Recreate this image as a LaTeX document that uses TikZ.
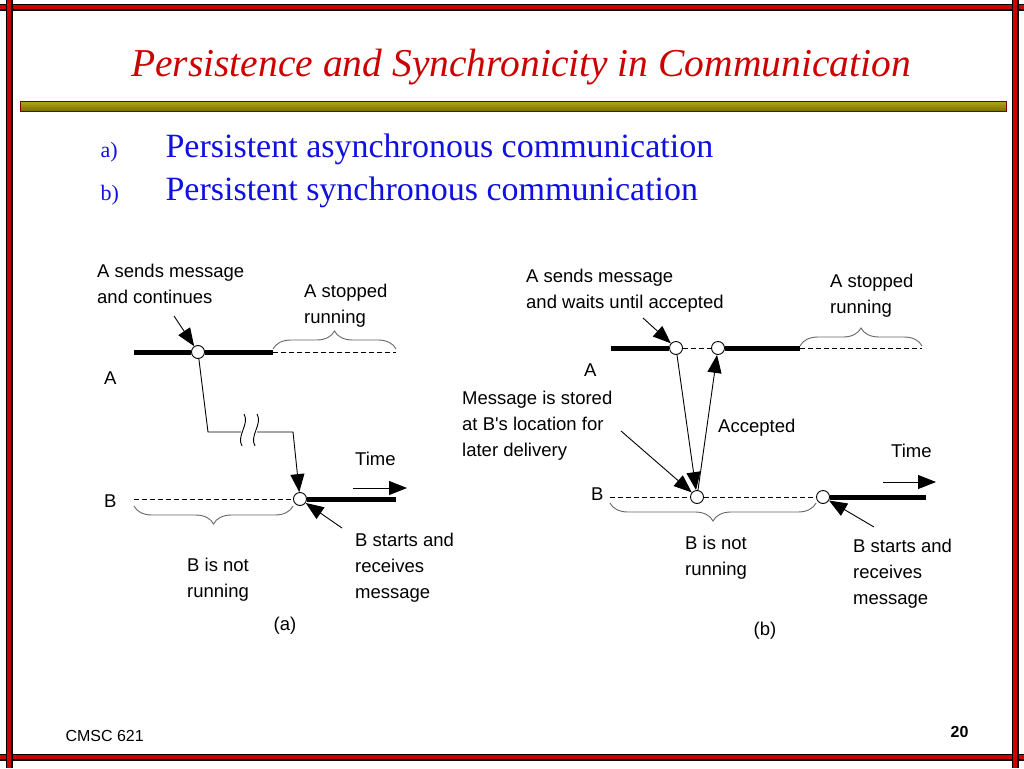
\documentclass[tikz,border=0pt]{standalone}
\usepackage{fontspec}
\setmainfont{Liberation Serif}
\newfontfamily\diag{Liberation Sans}
\usetikzlibrary{arrows.meta,decorations.pathreplacing}
\definecolor{titlered}{RGB}{204,0,0}
\definecolor{itemblue}{RGB}{16,16,224}
\definecolor{barhi}{RGB}{176,170,30}
\definecolor{barlo}{RGB}{120,112,0}
\begin{document}
\begin{tikzpicture}[x=1pt,y=-1pt,
    lbl/.style={font=\diag\fontsize{18.5}{26}\selectfont,align=left,anchor=north west,inner sep=0},
    dot/.style={circle,draw,fill=white,inner sep=0,minimum size=13pt,line width=0.9pt},
    life/.style={line width=5pt},
    idle/.style={dash pattern=on 5pt off 3pt,line width=0.8pt},
    wire/.style={line width=0.9pt},
    ptr/.style={wire,-{Triangle[length=18pt,width=14pt]}},
    brc/.style={decorate,decoration={brace,amplitude=18pt,aspect=0.5},line width=0.9pt,draw=black!60},
    band/.style={line width=7pt,draw=black},
    bandin/.style={line width=4pt,draw=titlered}]
    \useasboundingbox (0,0) rectangle (1024,768);
    % frame
    \foreach \y in {7.5,757} {\draw[band] (0,\y) -- (1024,\y); \draw[bandin] (0,\y) -- (1024,\y);}
    \foreach \x in {9,1015} {\draw[band] (\x,0) -- (\x,768); \draw[bandin] (\x,0) -- (\x,768);}
    \node[anchor=base,font=\fontsize{39.5}{48}\selectfont\itshape,text=titlered] (title) at (521,77) {Persistence and Synchronicity in Communication};
    \shade[top color=barhi,bottom color=barlo,draw=titlered!60!black] (20,101) rectangle (1006,111);
    \node[anchor=base west,font=\fontsize{22}{26}\selectfont,text=itemblue] (ia) at (97,157) {a)};
    \node[anchor=base west,font=\fontsize{34}{40}\selectfont,text=itemblue] (ta) at (162,157) {Persistent asynchronous communication};
    \node[anchor=base west,font=\fontsize{22}{26}\selectfont,text=itemblue] (ib) at (97,200) {b)};
    \node[anchor=base west,font=\fontsize{34}{40}\selectfont,text=itemblue] (tb) at (162,200) {Persistent synchronous communication};
    \node[anchor=base west,font=\diag\fontsize{16}{18}\selectfont] (foot) at (62,741) {CMSC 621};
    \node[anchor=base east,font=\diag\bfseries\fontsize{16}{18}\selectfont] (page) at (972,737) {20};

    % (a) asynchronous
    \node[dot] (as) at (198,352) {};
    \node[dot] (ar) at (300,499) {};
    \coordinate (a0) at (134,352);
    \coordinate (a1) at (273,352);
    \coordinate (a2) at (396,352);
    \coordinate (b0) at (134,499);
    \coordinate (b1) at (396,499);
    \draw[life] (a0) -- (as) -- (a1);
    \draw[idle] (a1) -- (a2);
    \draw[idle] (b0) -- (ar);
    \draw[life] (ar) -- (b1);
    \coordinate (m1) at (208,432);
    \coordinate (m2) at (241,432);
    \coordinate (m3) at (257,432);
    \coordinate (m4) at (293,432);
    \draw[wire] (as) -- (m1) -- (m2);
    \draw[ptr] (m3) -- (m4) -- (ar);
    \foreach \x in {244,257}
      \draw[wire] (\x,414) .. controls (\x+6,424) and (\x-8,436) .. (\x-2,446);
    \coordinate (pa) at (174,316);
    \coordinate (pb) at (342,528);
    \draw[ptr] (pa) -- (as);
    \draw[ptr] (pb) -- (ar);
    \coordinate (t0) at (353,488);
    \coordinate (t1) at (407,488);
    \draw[ptr] (t0) -- (t1);
    \draw[brc] ([yshift=3pt]a1) -- ([yshift=3pt]a2);
    \draw[brc] ([yshift=-7pt]ar.west) -- ([yshift=-7pt]b0);
    \node[lbl] (asend) at (97,264) {A sends message\\and continues};
    \node[lbl] (astop) at (304,284) {A stopped\\running};
    \node[lbl] (la) at (104,372) {A};
    \node[lbl] (lb) at (104,495) {B};
    \node[lbl] (time) at (355,452) {Time};
    \node[lbl] (bnot) at (187,558) {B is not\\running};
    \node[lbl] (bgo) at (355,533) {B starts and\\receives\\message};
    \node[lbl,anchor=center] (capa) at (285,626) {(a)};

    % (b) synchronous
    \node[dot] (s1) at (676,348) {};
    \node[dot] (s2) at (718,348) {};
    \node[dot] (r1) at (697,497) {};
    \node[dot] (r2) at (823,497) {};
    \coordinate (c0) at (611,348);
    \coordinate (c1) at (800,348);
    \coordinate (c2) at (922,348);
    \coordinate (d0) at (610,497);
    \coordinate (d1) at (926,497);
    \draw[life] (c0) -- (s1);
    \draw[idle] (s1) -- (s2);
    \draw[life] (s2) -- (c1);
    \draw[idle] (c1) -- (c2);
    \draw[idle] (d0) -- (r1) -- (r2);
    \draw[life] (r2) -- (d1);
    \draw[ptr] (s1) -- (r1);
    \draw[ptr] (r1) -- (s2);
    \coordinate (qa) at (643,318);
    \coordinate (qb) at (621,431);
    \coordinate (qc) at (874,527);
    \draw[ptr] (qa) -- (s1);
    \draw[ptr] (qb) -- (r1);
    \draw[ptr] (qc) -- (r2);
    \coordinate (u0) at (883,482);
    \coordinate (u1) at (936,482);
    \draw[ptr] (u0) -- (u1);
    \draw[brc] ([yshift=2pt]c1) -- ([yshift=2pt]c2);
    \draw[brc] ([yshift=-6pt]r2.west) -- ([yshift=-6pt]d0);
    \node[lbl] (wsend) at (526,269) {A sends message\\and waits until accepted};
    \node[lbl] (wstop) at (830,274) {A stopped\\running};
    \node[lbl] (wa) at (584,364) {A};
    \node[lbl] (wb) at (591,488) {B};
    \node[lbl] (store) at (462,391) {Message is stored\\at B's location for\\later delivery};
    \node[lbl] (acc) at (718,419) {Accepted};
    \node[lbl] (wtime) at (891,444) {Time};
    \node[lbl] (wnot) at (685,536) {B is not\\running};
    \node[lbl] (wgo) at (853,539) {B starts and\\receives\\message};
    \node[lbl,anchor=center] (capb) at (765,631) {(b)};
\end{tikzpicture}
\end{document}
